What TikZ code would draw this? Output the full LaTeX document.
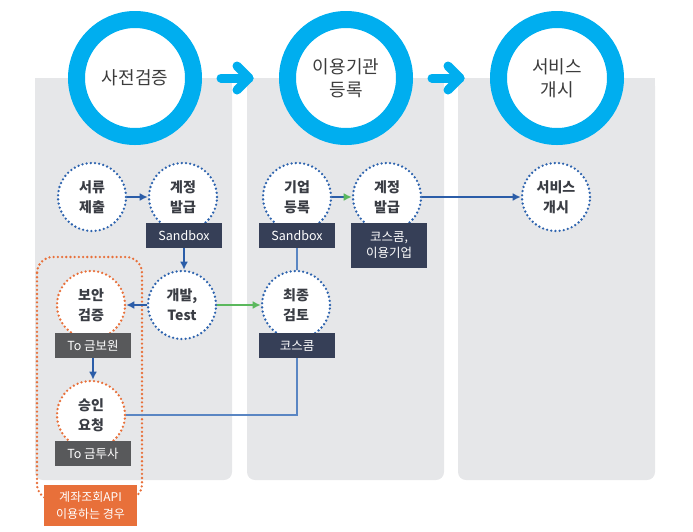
\documentclass[tikz,border=0pt]{standalone}
\usepackage{fontspec}
\setmainfont{Noto Sans CJK KR}
\usetikzlibrary{arrows.meta}
\usetikzlibrary{calc}
\tikzset{>=latex}
\definecolor{ringcol}{HTML}{00AEEF}
\definecolor{panelcol}{HTML}{E6E7E9}
\definecolor{dotcol}{HTML}{2D63AE}
\definecolor{flowcol}{HTML}{2B5DA8}
\definecolor{thincol}{HTML}{5A86C3}
\definecolor{navycol}{HTML}{363F57}
\definecolor{greycol}{HTML}{58595B}
\definecolor{orangecol}{HTML}{E8703A}
\definecolor{greencol}{HTML}{5BB85D}
\definecolor{txtcol}{HTML}{3C3C3C}
\tikzstyle{stage}=[circle,draw=ringcol,line width=17pt,fill=white,minimum size=117pt,inner sep=0pt,align=center,text=txtcol,font=\fontsize{18}{23}\selectfont]
\tikzstyle{task}=[circle,draw=dotcol,line width=2.6pt,dash pattern=on 0pt off 4.2pt,line cap=round,fill=white,minimum size=68pt,inner sep=0pt,align=center,text=txtcol!70!navycol,font=\bfseries\fontsize{14}{20}\selectfont]
\tikzstyle{ortask}=[task,draw=orangecol]
\tikzstyle{tag}=[fill=navycol,text=white,minimum width=76pt,minimum height=25pt,inner sep=2pt,align=center,font=\fontsize{12.5}{16}\selectfont]
\tikzstyle{greytag}=[tag,fill=greycol]
\tikzstyle{flow}=[draw=flowcol,line width=2pt,-{Latex[length=8pt,width=8pt]}]
\tikzstyle{link}=[draw=thincol,line width=1.3pt]
\tikzstyle{chevron}=[draw=ringcol,line width=9pt,line cap=round,line join=round]

\begin{document}
\begin{tikzpicture}[x=1pt,y=-1pt]
  \def\W{197}   % panel width
  \def\T{78}    % panel top
  \def\B{480}   % panel bottom
  \useasboundingbox (0,0) rectangle (693,531);

  % grey panels, rounded only at the bottom
  \foreach \x in {35,247,458} {
    \fill[panelcol,rounded corners=8pt] (\x,\T) rectangle (\x+\W,\B);
    \fill[panelcol] (\x,\T) rectangle (\x+\W,\T+30);
  }

  % dotted frame for the optional steps
  \draw[orangecol,line width=2.6pt,dash pattern=on 0pt off 4.2pt,line cap=round,rounded corners=16pt]
    (37,257) rectangle (142,500);

  % main stages
  \node[stage] (s1) at (135,78) {사전검증};
  \node[stage] (s2) at (346,78) {이용기관\\등록};
  \node[stage] (s3) at (557,78) {서비스\\개시};

  \foreach \a/\b in {s1/s2,s2/s3} {
    \draw[chevron] ($(\a.east)+(19,0)$) -- ($(\b.west)+(-30,0)$) coordinate (tip);
    \draw[chevron] ($(tip)+(-12,-12)$) -- (tip) -- ($(tip)+(-12,12)$);
  }

  % steps
  \node[task] (t1) at (92,197) {서류\\제출};
  \node[task] (t2) at (183,197) {계정\\발급};
  \node[task] (t3) at (297,197) {기업\\등록};
  \node[task] (t4) at (387,197) {계정\\발급};
  \node[task] (t5) at (556,197) {서비스\\개시};
  \node[task] (t6) at (182,305) {개발,\\Test};
  \node[ortask] (t7) at (91,305) {보안\\검증};
  \node[task] (t8) at (296,305) {최종\\검토};
  \node[ortask] (t9) at (91,415) {승인\\요청};

  % who does it
  \node[tag] (tag1) at (184,235.5) {Sandbox};
  \node[tag] (tag2) at (297,235.5) {Sandbox};
  \node[tag,minimum height=45pt] (tag3) at (389,245.5) {코스콤,\\이용기업};
  \node[greytag] (tag4) at (93,345.5) {To 금보원};
  \node[tag] (tag5) at (297,345.5) {코스콤};
  \node[greytag] (tag6) at (93,453.5) {To 금투사};

  \node[fill=orangecol,text=white,minimum width=93pt,minimum height=41pt,inner sep=2pt,align=center,
    font=\fontsize{12}{17}\selectfont] (note) at (90.5,505.5) {계좌조회API\\이용하는 경우};

  % connections
  \draw[flow] (t1) -- (t2);
  \draw[flow] (tag1.south) -- (tag1.south |- t6.north);
  \draw[flow] (t6) -- (t7);
  \draw[flow,draw=greencol] (t6) -- (t8);
  \draw[flow,-{Latex[length=8pt,width=8pt,color=greencol]}] (t3) -- (t4);
  \draw[flow] (t4) -- (t5);
  \draw[flow] (tag4.south) -- (tag4.south |- t9.north);
  \draw[link] (tag2.south) -- (tag2.south |- t8.north);
  \draw[link] (tag5.south) |- (t9.east);
\end{tikzpicture}
\end{document}
